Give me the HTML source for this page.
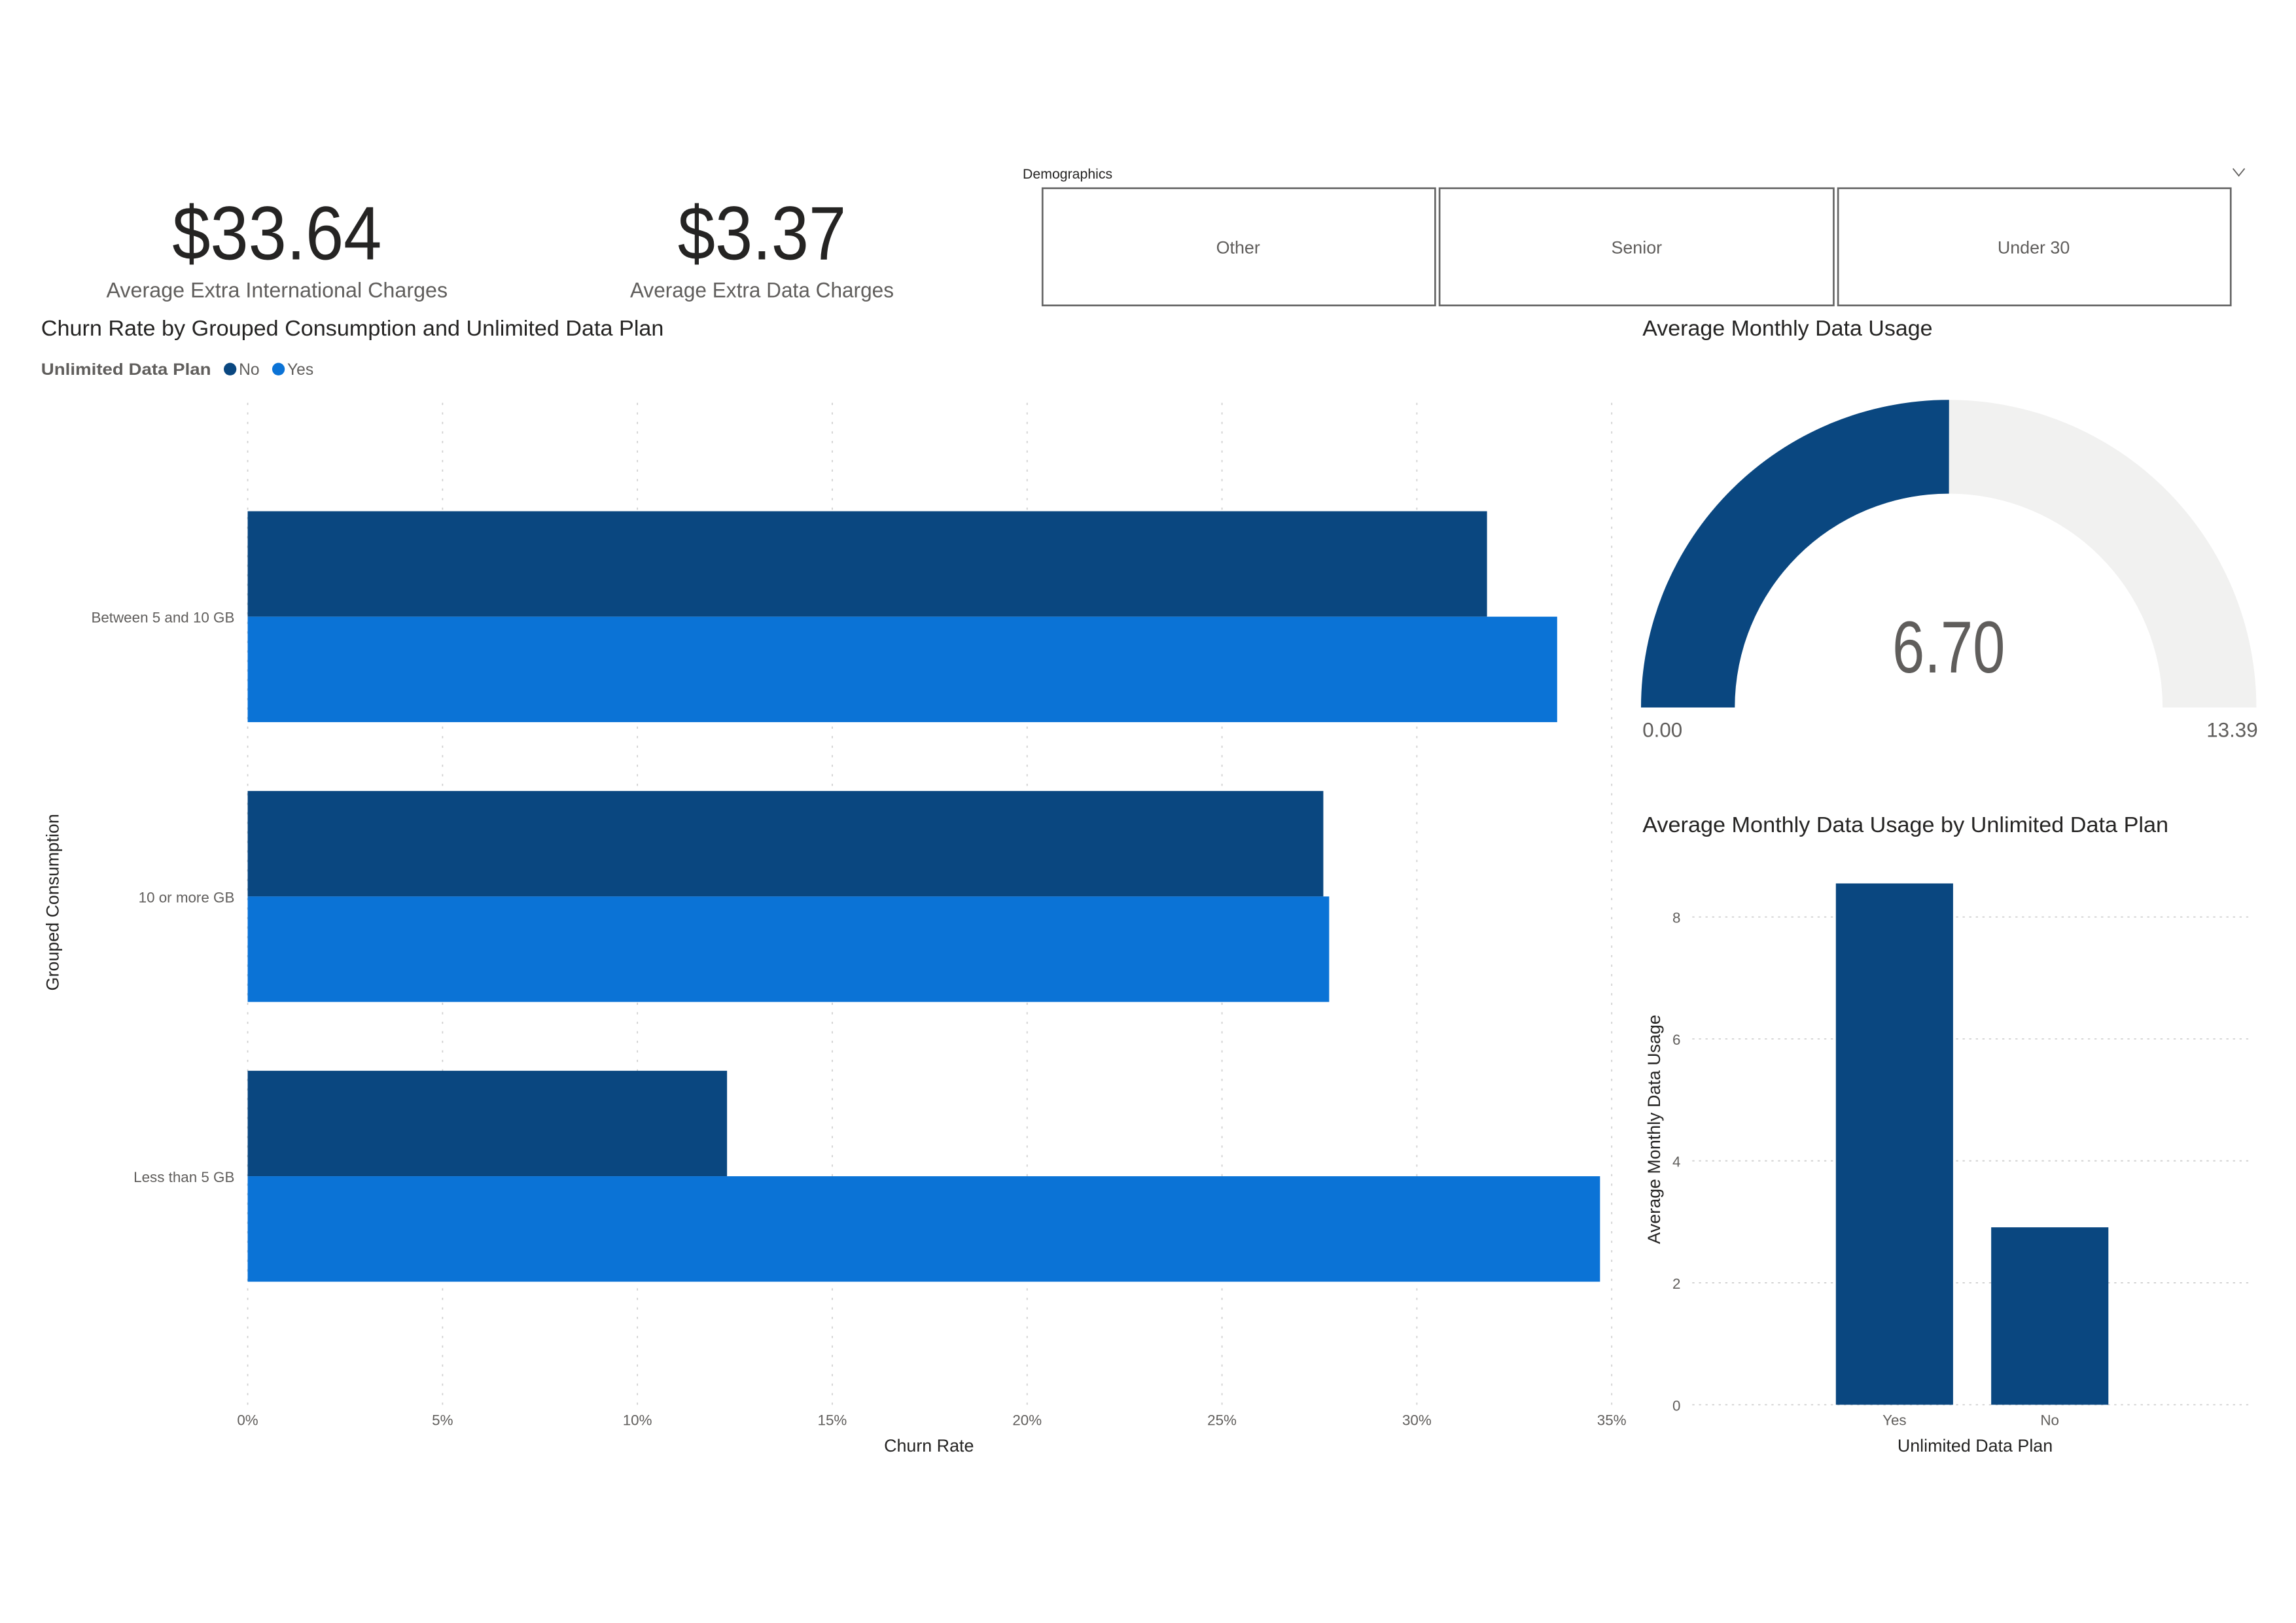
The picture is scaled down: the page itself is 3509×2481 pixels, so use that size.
<!DOCTYPE html>
<html><head><meta charset="utf-8"><style>
html,body{margin:0;padding:0;background:#fff;width:3509px;height:2481px;overflow:hidden}
svg{display:block}
text{font-family:"Liberation Sans Narrow","Liberation Sans",sans-serif}
</style></head><body>
<svg id="root" width="3509" height="2481" viewBox="0 0 1567 1108" xmlns="http://www.w3.org/2000/svg">
<g>
<text x="189" y="177" font-size="52" text-anchor="middle" fill="#252423" textLength="143" lengthAdjust="spacingAndGlyphs">$33.64</text>
<text x="189" y="203" font-size="14.5" text-anchor="middle" fill="#605E5C" textLength="233" lengthAdjust="spacingAndGlyphs">Average Extra International Charges</text>
</g>
<g>
<text x="520" y="177" font-size="52" text-anchor="middle" fill="#252423" textLength="115" lengthAdjust="spacingAndGlyphs">$3.37</text>
<text x="520" y="203" font-size="14.5" text-anchor="middle" fill="#605E5C" textLength="180" lengthAdjust="spacingAndGlyphs">Average Extra Data Charges</text>
</g>
<g>
<text x="698" y="122" font-size="9.5" fill="#252423">Demographics</text>
<path d="M1524 115 L1528 120 L1532 115" fill="none" stroke="#605E5C" stroke-width="0.8"/>
<g><rect x="711.5" y="128.5" width="268" height="80" fill="#fff" stroke="#666" stroke-width="1.2"/><text x="845" y="173" font-size="12" text-anchor="middle" fill="#605E5C">Other</text></g>
<g><rect x="982.5" y="128.5" width="269" height="80" fill="#fff" stroke="#666" stroke-width="1.2"/><text x="1117" y="173" font-size="12" text-anchor="middle" fill="#605E5C">Senior</text></g>
<g><rect x="1254.5" y="128.5" width="268" height="80" fill="#fff" stroke="#666" stroke-width="1.2"/><text x="1388" y="173" font-size="12" text-anchor="middle" fill="#605E5C">Under 30</text></g>
</g>
<g id="barchart">
<text x="28" y="229" font-size="15" fill="#252423" textLength="425" lengthAdjust="spacingAndGlyphs">Churn Rate by Grouped Consumption and Unlimited Data Plan</text>
<g>
<text x="28" y="256" font-size="11" font-weight="bold" fill="#605E5C" textLength="116" lengthAdjust="spacingAndGlyphs">Unlimited Data Plan</text>
<g><circle cx="157" cy="252" r="4.3" fill="#0A4780"/><text x="163" y="256" font-size="11" fill="#605E5C">No</text></g>
<g><circle cx="190" cy="252" r="4.3" fill="#0B73D6"/><text x="196" y="256" font-size="11" fill="#605E5C">Yes</text></g>
</g>
<text transform="translate(40,616) rotate(-90)" font-size="12" text-anchor="middle" fill="#252423">Grouped Consumption</text>
<text x="634" y="991" font-size="12" text-anchor="middle" fill="#252423">Churn Rate</text>
</g>
<g id="gauge">
<text x="1121" y="229" font-size="15" fill="#252423" textLength="198" lengthAdjust="spacingAndGlyphs">Average Monthly Data Usage</text>
</g>
<g id="colchart">
<text x="1121" y="568" font-size="15" fill="#252423" textLength="359" lengthAdjust="spacingAndGlyphs">Average Monthly Data Usage by Unlimited Data Plan</text>
<text transform="translate(1133,771) rotate(-90)" font-size="12" text-anchor="middle" fill="#252423">Average Monthly Data Usage</text>
<text x="1348" y="991" font-size="12" text-anchor="middle" fill="#252423">Unlimited Data Plan</text>
</g>
</svg>
<script>
const NS="http://www.w3.org/2000/svg";
// Bar chart data
const categories=["Between 5 and 10 GB","10 or more GB","Less than 5 GB"];
const churnNo=[31.8,27.6,12.3];
const churnYes=[33.6,27.75,34.7];
const xTicks=[0,5,10,15,20,25,30,35];
// Gauge data
const gaugeMin=0;
const gaugeMax=13.39;
const gaugeValue=6.70;
// Column chart data
const colCategories=["Yes","No"];
const colValues=[8.55,2.91];
const yTicks=[0,2,4,6,8];

function mk(tag,attrs,parent){const e=document.createElementNS(NS,tag);for(const k in attrs)e.setAttribute(k,attrs[k]);parent.appendChild(e);return e;}

// bar chart
const bc=document.getElementById('barchart');
const x0=169,pxPer=(1100-169)/35;
const xs=v=>x0+v*pxPer;
const band0=421,bandStep=191,barH=72;
xTicks.forEach(t=>{
  const l=mk('line',{x1:xs(t),x2:xs(t),y1:275,y2:960,stroke:'#D0D0D0','stroke-width':0.8,'stroke-dasharray':'1.5 5'},bc);
  
  
  const tx=mk('text',{x:xs(t),y:973,'font-size':10,'text-anchor':'middle',fill:'#605E5C'},bc);
  tx.textContent=t+'%';
  
  
});
categories.forEach((c,i)=>{
  const cy=band0+i*bandStep;
  const rn=mk('rect',{x:x0,y:cy-barH,width:xs(churnNo[i])-x0,height:barH,fill:'#0A4780'},bc);
  
  
  const ry=mk('rect',{x:x0,y:cy,width:xs(churnYes[i])-x0,height:barH,fill:'#0B73D6'},bc);
  
  
  const lb=mk('text',{x:160,y:cy+4,'font-size':10,'text-anchor':'end',fill:'#605E5C'},bc);
  lb.textContent=c;
  
  
});

// gauge
const g=document.getElementById('gauge');
const gcx=1330,gcy=483,R=210,r=146;
function arc(a0,a1){
  const p=(rad,a)=>[gcx+rad*Math.cos(a),gcy-rad*Math.sin(a)];
  const [x1,y1]=p(R,a0),[x2,y2]=p(R,a1),[x3,y3]=p(r,a1),[x4,y4]=p(r,a0);
  return `M${x1} ${y1} A${R} ${R} 0 0 1 ${x2} ${y2} L${x3} ${y3} A${r} ${r} 0 0 0 ${x4} ${y4} Z`;
}
const frac=(gaugeValue-gaugeMin)/(gaugeMax-gaugeMin);
const bg=mk('path',{d:arc(Math.PI,0),fill:'#F1F1F0'},g);


const fg=mk('path',{d:arc(Math.PI,Math.PI*(1-frac)),fill:'#0A4780'},g);


const gv=mk('text',{x:gcx,y:459,'font-size':50,'text-anchor':'middle',fill:'#605E5C',textLength:77,lengthAdjust:'spacingAndGlyphs'},g);
gv.textContent=gaugeValue.toFixed(2);


const gmin=mk('text',{x:1121,y:503,'font-size':14,fill:'#605E5C'},g);
gmin.textContent=gaugeMin.toFixed(2);


const gmax=mk('text',{x:1541,y:503,'font-size':14,'text-anchor':'end',fill:'#605E5C'},g);
gmax.textContent=gaugeMax.toFixed(2);



// column chart
const cc=document.getElementById('colchart');
const yBase=959,yPer=(959-626)/8;
const ys=v=>yBase-v*yPer;
yTicks.forEach(t=>{
  const l=mk('line',{x1:1155,x2:1537,y1:ys(t),y2:ys(t),stroke:'#D0D0D0','stroke-width':0.8,'stroke-dasharray':'1.5 3'},cc);
  
  
  const tx=mk('text',{x:1147,y:ys(t)+4,'font-size':10,'text-anchor':'end',fill:'#605E5C'},cc);
  tx.textContent=t;
  
  
});
const colX0=1253,colStep=106,colW=80;
colCategories.forEach((c,i)=>{
  const x=colX0+i*colStep;
  const r1=mk('rect',{x:x,y:ys(colValues[i]),width:colW,height:yBase-ys(colValues[i]),fill:'#0A4780'},cc);
  
  
  const lb=mk('text',{x:x+colW/2,y:973,'font-size':10,'text-anchor':'middle',fill:'#605E5C'},cc);
  lb.textContent=c;
  
  
});
</script>
</body></html>
